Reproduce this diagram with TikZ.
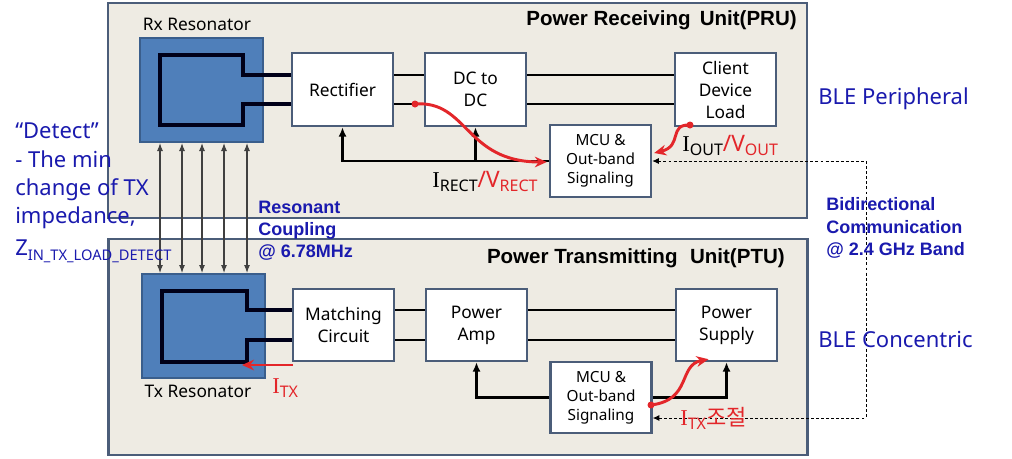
\documentclass[tikz,border=0pt]{standalone}
\usepackage{fontspec}
\setmainfont{Noto Sans}
\newfontfamily\bsans{Liberation Sans}
\newfontfamily\krfont{Noto Sans CJK KR}
\newfontfamily\serI{Liberation Serif}
\usetikzlibrary{arrows.meta,calc}
\definecolor{unitfill}{HTML}{EEEBE3}
\definecolor{unitline}{HTML}{4B5D79}
\definecolor{resfill}{HTML}{4F7FBA}
\definecolor{resline}{HTML}{3A5E8C}
\definecolor{bluetxt}{HTML}{1A1AAE}
\definecolor{redc}{HTML}{E3262A}
\newcommand{\Isym}{{\serI I}}
\newcommand{\sbs}[1]{\raisebox{-0.35ex}{\fontsize{12}{12}\selectfont #1}}
\begin{document}
\begin{tikzpicture}[x=0.75pt,y=-0.75pt,
  unit/.style={draw=unitline,line width=2.2pt,fill=unitfill,inner sep=0pt},
  blk/.style={draw=unitline,line width=1.8pt,fill=white,minimum width=75.75pt,minimum height=54.75pt,align=center,inner sep=0pt,font=\fontsize{13}{16.5}\selectfont},
  mcu/.style={blk,minimum height=54pt,font=\fontsize{11.5}{14.2}\selectfont},
  res/.style={draw=resline,line width=1.5pt,fill=resfill,minimum width=92.25pt,minimum height=78pt,inner sep=0pt},
  coil/.style={draw=black!90!blue,line width=2.6pt},
  wire/.style={draw=black,line width=2.2pt},
  fb/.style={draw=black,line width=2.2pt,-{Latex[length=7pt,width=6pt]}},
  coup/.style={draw=black!75,line width=0.8pt,{Latex[length=6pt,width=4.5pt]}-{Latex[length=6pt,width=4.5pt]}},
  redarr/.style={draw=redc,line width=2.2pt,-{Stealth[length=9pt,width=8pt]}},
  dl/.style={draw=black,line width=0.7pt,dash pattern=on 2.2pt off 1.6pt,{Latex[length=5pt,width=4.5pt]}-{Latex[length=5pt,width=4.5pt]}},
  lbl/.style={inner sep=0pt,font=\fontsize{13}{16}\selectfont},
  title/.style={inner sep=0pt,font=\bsans\bfseries\fontsize{15.4}{17}\selectfont},
  btxt/.style={inner sep=0pt,text=bluetxt,font=\fontsize{16.5}{20}\selectfont,anchor=base west},
  bbold/.style={inner sep=0pt,text=bluetxt,font=\bsans\bfseries\fontsize{13.5}{16.5}\selectfont,anchor=base west},
  rtxt/.style={inner sep=0pt,font=\fontsize{17}{18}\selectfont,anchor=base west}
]
\useasboundingbox (0,0) rectangle (1012,458);
\fill[white] (0,0) rectangle (1012,458);

% unit boxes
\node[unit,minimum width=524.25pt,minimum height=161.25pt] (pru) at (457.5,110.5) {};
\node[unit,minimum width=524.25pt,minimum height=162pt] (ptu) at (458,347) {};
\node[title,anchor=east] (prut) at (797,20) {Power Receiving\, Unit(PRU)};
\node[title,anchor=east] (ptut) at (785,258) {Power Transmitting\,\, Unit(PTU)};

% resonators
\node[res] (rx) at (201.5,90) {};
\node[res] (tx) at (203,326) {};
\node[lbl] (rxl) at (197,24) {Rx Resonator};
\node[lbl] (txl) at (198,391) {Tx Resonator};

% PRU blocks
\node[blk] (rect) at (342.5,89.5) {Rectifier};
\node[blk] (dc) at (475.5,89.5) {DC to\\DC};
\node[blk] (load) at (725.5,89.5) {Client\\Device\\Load};
\node[mcu] (mcu1) at (600.5,161) {MCU \&\\Out-band\\Signaling};

% PTU blocks
\node[blk,minimum height=54pt] (match) at (343.5,325) {Matching\\Circuit};
\node[blk,minimum height=54pt] (amp) at (476.5,325) {Power\\Amp};
\node[blk,minimum height=54pt] (ps) at (726.5,325) {Power\\Supply};
\node[mcu,minimum height=53.25pt] (mcu2) at (601,397.5) {MCU \&\\Out-band\\Signaling};

% Rx coil
\draw[coil] ($(rect.west)+(0,-14.5)$) -- (243,75) -- (243,55) -- (160,55) -- (160,125) -- (243,125) -- (243,104) -- ($(rect.west)+(0,14.5)$);
% Tx coil
\draw[coil] ($(match.west)+(0,-15)$) -- (247,310) -- (247,291) -- (162,291) -- (162,362) -- (247,362) -- (247,340) -- ($(match.west)+(0,15)$);

% power wires PRU
\draw[wire] ($(rect.east)+(0,-14.5)$) -- ($(dc.west)+(0,-14.5)$);
\draw[wire] ($(rect.east)+(0,14.5)$) -- ($(dc.west)+(0,14.5)$);
\draw[wire] ($(dc.east)+(0,-14.5)$) -- ($(load.west)+(0,-14.5)$);
\draw[wire] ($(dc.east)+(0,14.5)$) -- ($(load.west)+(0,14.5)$);
% power wires PTU
\draw[wire] ($(match.east)+(0,-15)$) -- ($(amp.west)+(0,-15)$);
\draw[wire] ($(match.east)+(0,15)$) -- ($(amp.west)+(0,15)$);
\draw[wire] ($(amp.east)+(0,-15)$) -- ($(ps.west)+(0,-15)$);
\draw[wire] ($(amp.east)+(0,15)$) -- ($(ps.west)+(0,15)$);

% feedback
\draw[fb] (mcu1.west) -| (rect.south);
\draw[fb] (dc.south |- mcu1.west) -- (dc.south);
\draw[fb] (mcu2.west) -| (amp.south);
\draw[fb] (mcu2.east) -| (ps.south);

% coupling arrows
\foreach \dx/\ex in {-41.5/-43, -19.5/-21, 0.5/-1, 22.5/21, 45.5/44}{
  \draw[coup] ($(rx.south)+(\dx,0)$) -- ($(tx.north)+(\ex,0)$);
}

% dashed bidirectional link
\coordinate (dcor) at (866,418);
\draw[dl] (mcu1.east) -| (dcor) -- ($(mcu2.east)+(0,20.5)$);

% red sensing curves
\coordinate (d1) at (415,104);
\coordinate (d2) at (690,125);
\coordinate (d3) at (651,405);
\fill[redc] (d1) circle (3.5);
\fill[redc] (d2) circle (3.5);
\fill[redc] (d3) circle (3.5);
\draw[redarr] (d1) .. controls (468,100) and (465,162) .. ($(mcu1.west)+(-2,1)$);
\draw[redarr] (d2) .. controls (668,124) and (683,146) .. ($(mcu1.east)+(2,-8)$);
\draw[redarr] (d3) .. controls (692,400) and (678,365) .. ($(ps.south)+(-18,-3)$);
\coordinate (itxs) at (293,365);
\coordinate (itxe) at (242,365);
\draw[redarr] (itxs) -- (itxe);

% red / black labels
\node[rtxt] (irect) at (432,187) {\Isym\sbs{RECT}\textcolor{redc}{/V\sbs{RECT}}};
\node[rtxt] (iout) at (682,151) {\Isym\sbs{OUT}\textcolor{redc}{/V\sbs{OUT}}};
\node[rtxt,text=redc] (itxc) at (680,425) {\Isym\sbs{TX}{\krfont\fontsize{16.5}{17}\selectfont 조절}};
\node[rtxt,text=redc] (itx) at (272,393) {\Isym\sbs{TX}};

% left blue text
\node[btxt] (t1) at (15,138) {“Detect”};
\node[btxt] (t2) at (15,167) {- The min};
\node[btxt] (t3) at (15,195) {change of TX};
\node[btxt] (t4) at (15,223) {impedance,};
\node[btxt] (t5) at (15,255) {Z\raisebox{-0.45ex}{\fontsize{11}{11}\selectfont IN\_TX\_LOAD\_DETECT}};

\node[bbold] (r1) at (258,213) {Resonant};
\node[bbold] (r2) at (258,235) {Coupling};
\node[bbold] (r3) at (258,257) {@ 6.78MHz};

\node[btxt] (ble1) at (818,104) {BLE Peripheral};
\node[btxt] (ble2) at (818,347) {BLE Concentric};
\node[bbold] (b1) at (826,210) {Bidirectional};
\node[bbold] (b2) at (826,233) {Communication};
\node[bbold] (b3) at (826,255) {@ 2.4 GHz Band};
\end{tikzpicture}
\end{document}
